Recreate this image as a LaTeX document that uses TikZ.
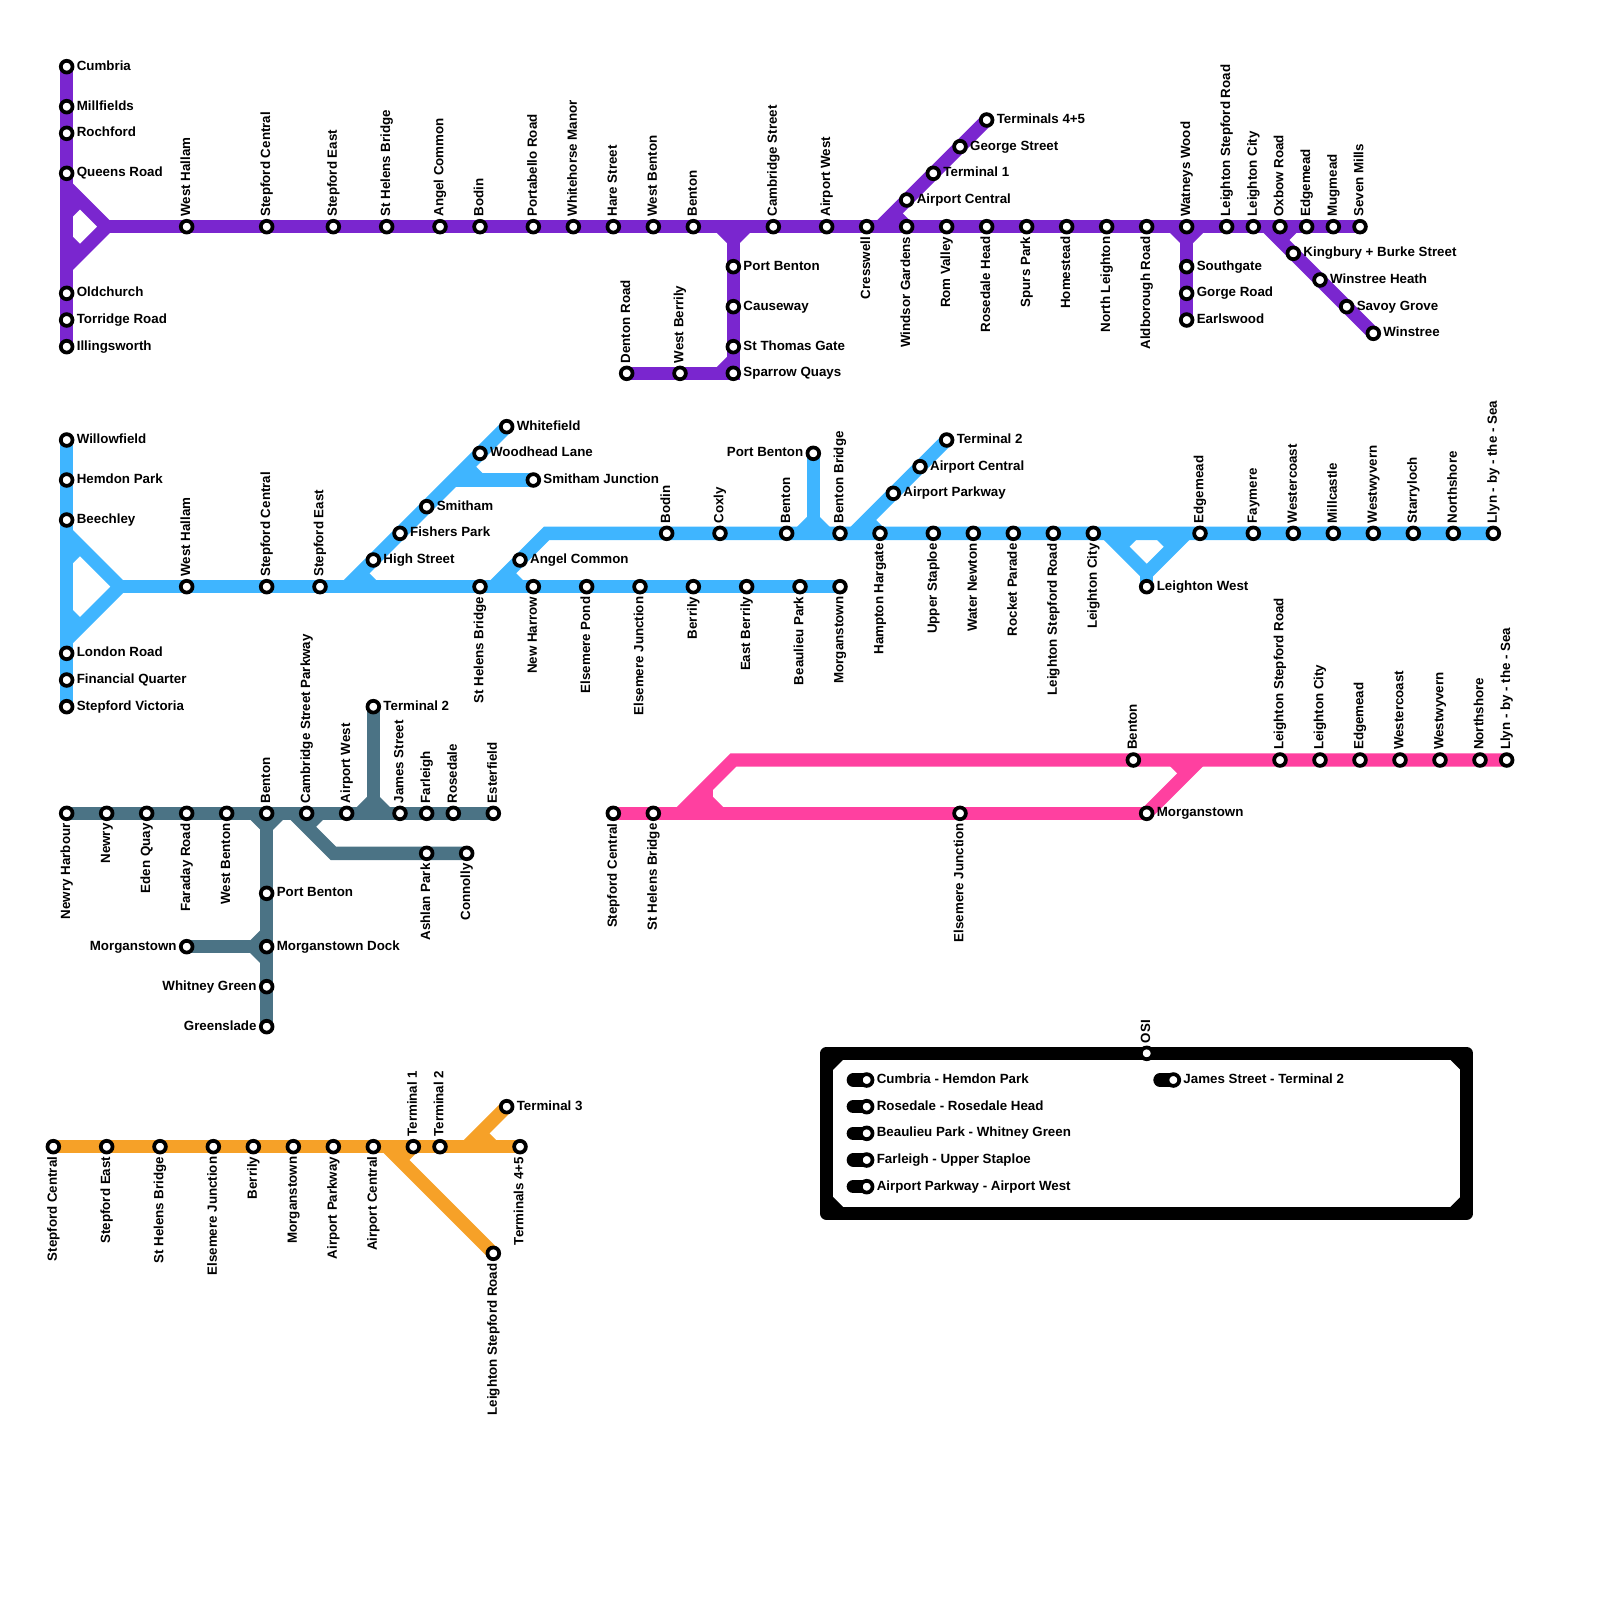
\documentclass[tikz,border=0pt]{standalone}
\usepackage{fontspec}
\setmainfont{Liberation Sans}
\usetikzlibrary{positioning}
\usetikzlibrary{backgrounds}
\definecolor{purpleline}{HTML}{7A26CF}
\definecolor{blueline}{HTML}{3FB5FF}
\definecolor{tealline}{HTML}{4B7385}
\definecolor{pinkline}{HTML}{FF40A0}
\definecolor{orangeline}{HTML}{F6A128}
\tikzset{
  stn/.style={circle,draw=black,fill=white,line width=2.8pt,minimum size=8.8pt,inner sep=0pt,outer sep=0pt},
  lbl/.style={font=\bfseries,inner ysep=0pt,inner xsep=3pt,text height=7.5pt,text depth=2.3pt,black},
  lr/.style={label={[lbl,anchor=west]0:#1}},
  ll/.style={label={[lbl,anchor=east]180:#1}},
  lu/.style={label={[lbl,rotate=90,anchor=west]90:#1}},
  ld/.style={label={[lbl,rotate=90,anchor=east]-90:#1}},
  mline/.style={line width=10pt,draw=#1},
}
\begin{document}
\begin{tikzpicture}[x=10pt,y=-10pt,on grid,label distance=0pt]
  \useasboundingbox (0,0) rectangle (120,120);

  \node[stn,lr=Cumbria] (pcumbria) at (5,5) {};
  \node[stn,lr=Millfields] (pmill) [below=30pt of pcumbria] {};
  \node[stn,lr=Rochford] (proch) [below=20pt of pmill] {};
  \node[stn,lr=Queens Road] (pqueens) [below=30pt of proch] {};
  \node[stn,lr=Oldchurch] (pold) [below=90pt of pqueens] {};
  \node[stn,lr=Torridge Road] (ptorr) [below=20pt of pold] {};
  \node[stn,lr=Illingsworth] (pilling) [below=20pt of ptorr] {};
  \node[stn,lu=West Hallam] (phallam) at (14,17) {};
  \node[stn,lu=Stepford Central] (pscentral) [right=60pt of phallam] {};
  \node[stn,lu=Stepford East] (pseast) [right=50pt of pscentral] {};
  \node[stn,lu=St Helens Bridge] (phelens) [right=40pt of pseast] {};
  \node[stn,lu=Angel Common] (pangel) [right=40pt of phelens] {};
  \node[stn,lu=Bodin] (pbodin) [right=30pt of pangel] {};
  \node[stn,lu=Portabello Road] (pporta) [right=40pt of pbodin] {};
  \node[stn,lu=Whitehorse Manor] (pwhite) [right=30pt of pporta] {};
  \node[stn,lu=Hare Street] (phare) [right=30pt of pwhite] {};
  \node[stn,lu=West Benton] (pwbenton) [right=30pt of phare] {};
  \node[stn,lu=Benton] (pbenton) [right=30pt of pwbenton] {};
  \node[stn,lu=Cambridge Street] (pcamb) [right=60pt of pbenton] {};
  \node[stn,lu=Airport West] (pawest) [right=40pt of pcamb] {};
  \node[stn,ld=Cresswell] (pcress) [right=30pt of pawest] {};
  \node[stn,ld=Windsor Gardens] (pwindsor) [right=30pt of pcress] {};
  \node[stn,ld=Rom Valley] (prom) [right=30pt of pwindsor] {};
  \node[stn,ld=Rosedale Head] (prose) [right=30pt of prom] {};
  \node[stn,ld=Spurs Park] (pspurs) [right=30pt of prose] {};
  \node[stn,ld=Homestead] (phome) [right=30pt of pspurs] {};
  \node[stn,ld=North Leighton] (pnorth) [right=30pt of phome] {};
  \node[stn,ld=Aldborough Road] (pald) [right=30pt of pnorth] {};
  \node[stn,lu=Watneys Wood] (pwat) [right=30pt of pald] {};
  \node[stn,lu=Leighton Stepford Road] (plstep) [right=30pt of pwat] {};
  \node[stn,lu=Leighton City] (plcity) [right=20pt of plstep] {};
  \node[stn,lu=Oxbow Road] (poxbow) [right=20pt of plcity] {};
  \node[stn,lu=Edgemead] (pedge) [right=20pt of poxbow] {};
  \node[stn,lu=Mugmead] (pmug) [right=20pt of pedge] {};
  \node[stn,lu=Seven Mills] (pseven) [right=20pt of pmug] {};
  \node[stn,lr=Port Benton] (pport) at (55,20) {};
  \node[stn,lr=Causeway] (pcause) [below=30pt of pport] {};
  \node[stn,lr=St Thomas Gate] (pthomas) [below=30pt of pcause] {};
  \node[stn,lr=Sparrow Quays] (psparrow) [below=20pt of pthomas] {};
  \node[stn,lu=West Berrily] (pberrily) [left=40pt of psparrow] {};
  \node[stn,lu=Denton Road] (pdenton) [left=40pt of pberrily] {};
  \node[stn,lr=Airport Central] (pacentral) [above=20pt of pwindsor] {};
  \node[stn,lr=Terminal 1] (pterm1) [above right=20pt and 20pt of pacentral] {};
  \node[stn,lr=George Street] (pgeorge) [above right=20pt and 20pt of pterm1] {};
  \node[stn,lr=Terminals 4+5] (pterm45) [above right=20pt and 20pt of pgeorge] {};
  \node[stn,lr=Southgate] (psouth) [below=30pt of pwat] {};
  \node[stn,lr=Gorge Road] (pgorge) [below=20pt of psouth] {};
  \node[stn,lr=Earlswood] (pearls) [below=20pt of pgorge] {};
  \node[stn,lr=Kingbury + Burke Street] (pking) at (97,19) {};
  \node[stn,lr=Winstree Heath] (pheath) [below right=20pt and 20pt of pking] {};
  \node[stn,lr=Savoy Grove] (psavoy) [below right=20pt and 20pt of pheath] {};
  \node[stn,lr=Winstree] (pwinstree) [below right=20pt and 20pt of psavoy] {};

  \node[stn,lr=Willowfield] (bwillow) at (5,33) {};
  \node[stn,lr=Hemdon Park] (bhemdon) [below=30pt of bwillow] {};
  \node[stn,lr=Beechley] (bbeech) [below=30pt of bhemdon] {};
  \node[stn,lr=London Road] (blondon) [below=100pt of bbeech] {};
  \node[stn,lr=Financial Quarter] (bfin) [below=20pt of blondon] {};
  \node[stn,lr=Stepford Victoria] (bvict) [below=20pt of bfin] {};
  \node[stn,lu=West Hallam] (bhallam) at (14,44) {};
  \node[stn,lu=Stepford Central] (bscentral) [right=60pt of bhallam] {};
  \node[stn,lu=Stepford East] (bseast) [right=40pt of bscentral] {};
  \node[stn,ld=St Helens Bridge] (bhelens) at (36,44) {};
  \node[stn,ld=New Harrow] (bharrow) [right=40pt of bhelens] {};
  \node[stn,ld=Elsemere Pond] (bpond) [right=40pt of bharrow] {};
  \node[stn,ld=Elsemere Junction] (bjunc) [right=40pt of bpond] {};
  \node[stn,ld=Berrily] (bberrily) [right=40pt of bjunc] {};
  \node[stn,ld=East Berrily] (beast) [right=40pt of bberrily] {};
  \node[stn,ld=Beaulieu Park] (bbeau) [right=40pt of beast] {};
  \node[stn,ld=Morganstown] (bmorgan) [right=30pt of bbeau] {};
  \node[stn,lr=High Street] (bhigh) at (28,42) {};
  \node[stn,lr=Fishers Park] (bfish) [above right=20pt and 20pt of bhigh] {};
  \node[stn,lr=Smitham] (bsmith) [above right=20pt and 20pt of bfish] {};
  \node[stn,lr=Woodhead Lane] (bwood) [above right=40pt and 40pt of bsmith] {};
  \node[stn,lr=Whitefield] (bwhite) [above right=20pt and 20pt of bwood] {};
  \node[stn,lr=Smitham Junction] (bsjunc) at (40,36) {};
  \node[stn,lr=Angel Common] (bangel) at (39,42) {};
  \node[stn,lu=Bodin] (bbodin) at (50,40) {};
  \node[stn,lu=Coxly] (bcoxly) [right=40pt of bbodin] {};
  \node[stn,lu=Benton] (bbenton) [right=50pt of bcoxly] {};
  \node[stn,lu=Benton Bridge] (bbridge) [right=40pt of bbenton] {};
  \node[stn,ld=Hampton Hargate] (bhampton) [right=30pt of bbridge] {};
  \node[stn,ld=Upper Staploe] (bupper) [right=40pt of bhampton] {};
  \node[stn,ld=Water Newton] (bwater) [right=30pt of bupper] {};
  \node[stn,ld=Rocket Parade] (brocket) [right=30pt of bwater] {};
  \node[stn,ld=Leighton Stepford Road] (blstep) [right=30pt of brocket] {};
  \node[stn,ld=Leighton City] (blcity) [right=30pt of blstep] {};
  \node[stn,lu=Edgemead] (bedge) [right=80pt of blcity] {};
  \node[stn,lu=Faymere] (bfay) [right=40pt of bedge] {};
  \node[stn,lu=Westercoast] (bwestc) [right=30pt of bfay] {};
  \node[stn,lu=Millcastle] (bmill) [right=30pt of bwestc] {};
  \node[stn,lu=Westwyvern] (bwestw) [right=30pt of bmill] {};
  \node[stn,lu=Starryloch] (bstarry) [right=30pt of bwestw] {};
  \node[stn,lu=Northshore] (bnorth) [right=30pt of bstarry] {};
  \node[stn,lu=Llyn - by - the - Sea] (bllyn) [right=30pt of bnorth] {};
  \node[stn,ll=Port Benton] (bport) at (61,34) {};
  \node[stn,lr=Airport Parkway] (bapark) at (67,37) {};
  \node[stn,lr=Airport Central] (bacentral) [above right=20pt and 20pt of bapark] {};
  \node[stn,lr=Terminal 2] (bterm2) [above right=20pt and 20pt of bacentral] {};
  \node[stn,lr=Leighton West] (blwest) at (86,44) {};

  \node[stn,ld=Newry Harbour] (tharbour) at (5,61) {};
  \node[stn,ld=Newry] (tnewry) [right=30pt of tharbour] {};
  \node[stn,ld=Eden Quay] (teden) [right=30pt of tnewry] {};
  \node[stn,ld=Faraday Road] (tfaraday) [right=30pt of teden] {};
  \node[stn,ld=West Benton] (twbenton) [right=30pt of tfaraday] {};
  \node[stn,lu=Benton] (tbenton) [right=30pt of twbenton] {};
  \node[stn,lu=Cambridge Street Parkway] (tcamb) [right=30pt of tbenton] {};
  \node[stn,lu=Airport West] (tawest) [right=30pt of tcamb] {};
  \node[stn,lu=James Street] (tjames) [right=40pt of tawest] {};
  \node[stn,lu=Farleigh] (tfarleigh) [right=20pt of tjames] {};
  \node[stn,lu=Rosedale] (trose) [right=20pt of tfarleigh] {};
  \node[stn,lu=Esterfield] (tester) [right=30pt of trose] {};
  \node[stn,lr=Terminal 2] (tterm2) at (28,53) {};
  \node[stn,ld=Ashlan Park] (tashlan) at (32,64) {};
  \node[stn,ld=Connolly] (tconn) [right=30pt of tashlan] {};
  \node[stn,lr=Port Benton] (tport) at (20,67) {};
  \node[stn,lr=Morganstown Dock] (tdock) [below=40pt of tport] {};
  \node[stn,ll=Whitney Green] (twhitney) [below=30pt of tdock] {};
  \node[stn,ll=Greenslade] (tgreen) [below=30pt of twhitney] {};
  \node[stn,ll=Morganstown] (tmorgan) [left=60pt of tdock] {};

  \node[stn,ld=Stepford Central] (mscentral) at (46,61) {};
  \node[stn,ld=St Helens Bridge] (mhelens) [right=30pt of mscentral] {};
  \node[stn,ld=Elsemere Junction] (mjunc) [right=230pt of mhelens] {};
  \node[stn,lr=Morganstown] (mmorgan) [right=140pt of mjunc] {};
  \node[stn,lu=Benton] (mbenton) at (85,57) {};
  \node[stn,lu=Leighton Stepford Road] (mlstep) [right=110pt of mbenton] {};
  \node[stn,lu=Leighton City] (mlcity) [right=30pt of mlstep] {};
  \node[stn,lu=Edgemead] (medge) [right=30pt of mlcity] {};
  \node[stn,lu=Westercoast] (mwestc) [right=30pt of medge] {};
  \node[stn,lu=Westwyvern] (mwestw) [right=30pt of mwestc] {};
  \node[stn,lu=Northshore] (mnorth) [right=30pt of mwestw] {};
  \node[stn,lu=Llyn - by - the - Sea] (mllyn) [right=20pt of mnorth] {};

  \node[stn,ld=Stepford Central] (oscentral) at (4,86) {};
  \node[stn,ld=Stepford East] (oseast) [right=40pt of oscentral] {};
  \node[stn,ld=St Helens Bridge] (ohelens) [right=40pt of oseast] {};
  \node[stn,ld=Elsemere Junction] (ojunc) [right=40pt of ohelens] {};
  \node[stn,ld=Berrily] (oberrily) [right=30pt of ojunc] {};
  \node[stn,ld=Morganstown] (omorgan) [right=30pt of oberrily] {};
  \node[stn,ld=Airport Parkway] (oapark) [right=30pt of omorgan] {};
  \node[stn,ld=Airport Central] (oacentral) [right=30pt of oapark] {};
  \node[stn,lu=Terminal 1] (oterm1) [right=30pt of oacentral] {};
  \node[stn,lu=Terminal 2] (oterm2) [right=20pt of oterm1] {};
  \node[stn,ld=Terminals 4+5] (oterm45) [right=60pt of oterm2] {};
  \node[stn,lr=Terminal 3] (oterm3) at (38,83) {};
  \node[stn,ld=Leighton Stepford Road] (olstep) at (37,94) {};

  \node[stn,lu=OSI] (kosi) at (86,79) {};
  \node[stn,lr=Cumbria - Hemdon Park] (kone) at (65,81) {};
  \node[stn,lr=Rosedale - Rosedale Head] (ktwo) [below=20pt of kone] {};
  \node[stn,lr=Beaulieu Park - Whitney Green] (kthree) [below=20pt of ktwo] {};
  \node[stn,lr=Farleigh - Upper Staploe] (kfour) [below=20pt of kthree] {};
  \node[stn,lr=Airport Parkway - Airport West] (kfive) [below=20pt of kfour] {};
  \node[stn,lr=James Street - Terminal 2] (ksix) at (88,81) {};

  \coordinate (pa) at (5,14);
  \coordinate (pb) at (8,17);
  \coordinate (pc) at (5,20);
  \coordinate (pd) at (5,16);
  \coordinate (pe) at (6,15);
  \coordinate (pf) at (5,18);
  \coordinate (pg) at (6,19);
  \coordinate (ph) at (54,17);
  \coordinate (pi) at (55,18);
  \coordinate (pj) at (56,17);
  \coordinate (pk) at (54,28);
  \coordinate (pl) at (55,27);
  \coordinate (pm) at (66,17);
  \coordinate (pn) at (67,16);
  \coordinate (po) at (88,17);
  \coordinate (pp) at (89,18);
  \coordinate (pq) at (90,17);
  \coordinate (pr) at (95,17);
  \coordinate (ps) at (97,17);
  \coordinate (pt) at (96,18);

  \coordinate (ba) at (5,40);
  \coordinate (bb) at (9,44);
  \coordinate (bc) at (5,48);
  \coordinate (bd) at (5,42);
  \coordinate (be) at (6,41);
  \coordinate (bf) at (5,46);
  \coordinate (bg) at (6,47);
  \coordinate (bh) at (26,44);
  \coordinate (bi) at (27,43);
  \coordinate (bj) at (28,44);
  \coordinate (bk) at (34,36);
  \coordinate (bl) at (35,35);
  \coordinate (bm) at (36,36);
  \coordinate (bn) at (37,44);
  \coordinate (bo) at (41,40);
  \coordinate (bp) at (38,43);
  \coordinate (bq) at (39,44);
  \coordinate (br) at (60,40);
  \coordinate (bs) at (61,39);
  \coordinate (bt) at (62,40);
  \coordinate (bu) at (64,40);
  \coordinate (bv) at (65,39);
  \coordinate (bw) at (66,40);
  \coordinate (bx) at (83,40);
  \coordinate (by) at (86,43);
  \coordinate (bz) at (89,40);
  \coordinate (baa) at (85,40);
  \coordinate (bab) at (84,41);
  \coordinate (bac) at (87,40);
  \coordinate (bad) at (88,41);

  \coordinate (ta) at (19,61);
  \coordinate (tb) at (20,62);
  \coordinate (tc) at (21,61);
  \coordinate (td) at (22,61);
  \coordinate (te) at (25,64);
  \coordinate (tf) at (24,61);
  \coordinate (tg) at (23,62);
  \coordinate (th) at (27,61);
  \coordinate (ti) at (28,60);
  \coordinate (tj) at (29,61);
  \coordinate (tk) at (19,71);
  \coordinate (tl) at (20,70);
  \coordinate (tm) at (20,72);

  \coordinate (ma) at (51,61);
  \coordinate (mb) at (55,57);
  \coordinate (mc) at (53,59);
  \coordinate (md) at (53,60);
  \coordinate (me) at (54,61);
  \coordinate (mi) at (52,61);
  \coordinate (mf) at (90,57);
  \coordinate (mg) at (88,57);
  \coordinate (mh) at (89,58);

  \coordinate (oa) at (29,86);
  \coordinate (ob) at (31,86);
  \coordinate (oc) at (30,87);
  \coordinate (od) at (35,86);
  \coordinate (oe) at (36,85);
  \coordinate (of) at (37,86);

  \coordinate (ka) at (62,79);
  \coordinate (kb) at (110,79);
  \coordinate (kc) at (110,91);
  \coordinate (kd) at (62,91);
  \coordinate (ke) at (62,80);
  \coordinate (kf) at (63,79);
  \coordinate (kg) at (109,79);
  \coordinate (kh) at (110,80);
  \coordinate (ki) at (110,90);
  \coordinate (kj) at (109,91);
  \coordinate (kk) at (63,91);
  \coordinate (kl) at (62,90);
  \coordinate (kone') at (64,81);
  \coordinate (ktwo') at (64,83);
  \coordinate (kthree') at (64,85);
  \coordinate (kfour') at (64,87);
  \coordinate (kfive') at (64,89);
  \coordinate (ksix') at (87,81);

  \begin{scope}[on background layer]
    \draw[mline=purpleline] (pcumbria.center) -- (pmill.center) -- (proch.center) -- (pqueens.center)
      -- (pold.center) -- (ptorr.center) -- (pilling.center);
    \draw[mline=purpleline] (pa) -- (pb) -- (pc);
    \draw[mline=purpleline] (pd) -- (pe);
    \draw[mline=purpleline] (pf) -- (pg);
    \draw[mline=purpleline] (pb) -- (phallam.center) -- (pscentral.center) -- (pseast.center) -- (phelens.center)
      -- (pangel.center) -- (pbodin.center) -- (pporta.center) -- (pwhite.center) -- (phare.center)
      -- (pwbenton.center) -- (pbenton.center) -- (pcamb.center) -- (pawest.center) -- (pcress.center)
      -- (pwindsor.center) -- (prom.center) -- (prose.center) -- (pspurs.center) -- (phome.center)
      -- (pnorth.center) -- (pald.center) -- (pwat.center) -- (plstep.center) -- (plcity.center)
      -- (poxbow.center) -- (pedge.center) -- (pmug.center) -- (pseven.center);
    \draw[mline=purpleline] (ph) -- (pi) -- (pj);
    \draw[mline=purpleline] (pi) -- (pport.center) -- (pcause.center) -- (pthomas.center) -- (psparrow.center)
      -- (pberrily.center) -- (pdenton.center);
    \draw[mline=purpleline] (pk) -- (pl);
    \draw[mline=purpleline] (pm) -- (pacentral.center) -- (pterm1.center) -- (pgeorge.center) -- (pterm45.center);
    \draw[mline=purpleline] (pn) -- (pwindsor.center);
    \draw[mline=purpleline] (po) -- (pp) -- (pq);
    \draw[mline=purpleline] (pp) -- (psouth.center) -- (pgorge.center) -- (pearls.center);
    \draw[mline=purpleline] (pr) -- (pking.center) -- (pheath.center) -- (psavoy.center) -- (pwinstree.center);
    \draw[mline=purpleline] (ps) -- (pt);

    \draw[mline=blueline] (bwillow.center) -- (bhemdon.center) -- (bbeech.center) -- (blondon.center)
      -- (bfin.center) -- (bvict.center);
    \draw[mline=blueline] (ba) -- (bb) -- (bc);
    \draw[mline=blueline] (bd) -- (be);
    \draw[mline=blueline] (bf) -- (bg);
    \draw[mline=blueline] (bb) -- (bhallam.center) -- (bscentral.center) -- (bseast.center) -- (bhelens.center)
      -- (bharrow.center) -- (bpond.center) -- (bjunc.center) -- (bberrily.center) -- (beast.center)
      -- (bbeau.center) -- (bmorgan.center);
    \draw[mline=blueline] (bh) -- (bhigh.center) -- (bfish.center) -- (bsmith.center) -- (bwood.center) -- (bwhite.center);
    \draw[mline=blueline] (bi) -- (bj);
    \draw[mline=blueline] (bk) -- (bsjunc.center);
    \draw[mline=blueline] (bl) -- (bm);
    \draw[mline=blueline] (bn) -- (bangel.center) -- (bo) -- (bbodin.center) -- (bcoxly.center) -- (bbenton.center)
      -- (bbridge.center) -- (bhampton.center) -- (bupper.center) -- (bwater.center) -- (brocket.center)
      -- (blstep.center) -- (blcity.center) -- (bedge.center) -- (bfay.center) -- (bwestc.center)
      -- (bmill.center) -- (bwestw.center) -- (bstarry.center) -- (bnorth.center) -- (bllyn.center);
    \draw[mline=blueline] (bp) -- (bq);
    \draw[mline=blueline] (br) -- (bs) -- (bt);
    \draw[mline=blueline] (bs) -- (bport.center);
    \draw[mline=blueline] (bu) -- (bapark.center) -- (bacentral.center) -- (bterm2.center);
    \draw[mline=blueline] (bv) -- (bw);
    \draw[mline=blueline] (bx) -- (by) -- (bz);
    \draw[mline=blueline] (by) -- (blwest.center);
    \draw[mline=blueline] (baa) -- (bab);
    \draw[mline=blueline] (bac) -- (bad);

    \draw[mline=tealline] (tharbour.center) -- (tnewry.center) -- (teden.center) -- (tfaraday.center)
      -- (twbenton.center) -- (tbenton.center) -- (tcamb.center) -- (tawest.center) -- (tjames.center)
      -- (tfarleigh.center) -- (trose.center) -- (tester.center);
    \draw[mline=tealline] (ta) -- (tb) -- (tc);
    \draw[mline=tealline] (tb) -- (tport.center) -- (tdock.center) -- (twhitney.center) -- (tgreen.center);
    \draw[mline=tealline] (td) -- (te) -- (tashlan.center) -- (tconn.center);
    \draw[mline=tealline] (tf) -- (tg);
    \draw[mline=tealline] (th) -- (ti) -- (tj);
    \draw[mline=tealline] (ti) -- (tterm2.center);
    \draw[mline=tealline] (tmorgan.center) -- (tk);
    \draw[mline=tealline] (tl) -- (tk) -- (tm);

    \draw[mline=pinkline] (mscentral.center) -- (mhelens.center) -- (mjunc.center) -- (mmorgan.center);
    \draw[mline=pinkline] (ma) -- (mb) -- (mbenton.center) -- (mlstep.center) -- (mlcity.center) -- (medge.center)
      -- (mwestc.center) -- (mwestw.center) -- (mnorth.center) -- (mllyn.center);
    \draw[mline=pinkline] (mc) -- (md);
    \draw[mline=pinkline] (mi) -- (md) -- (me);
    \draw[mline=pinkline] (mmorgan.center) -- (mf);
    \draw[mline=pinkline] (mg) -- (mh);

    \draw[mline=orangeline] (oscentral.center) -- (oseast.center) -- (ohelens.center) -- (ojunc.center)
      -- (oberrily.center) -- (omorgan.center) -- (oapark.center) -- (oacentral.center) -- (oterm1.center)
      -- (oterm2.center) -- (oterm45.center);
    \draw[mline=orangeline] (oa) -- (olstep.center);
    \draw[mline=orangeline] (ob) -- (oc);
    \draw[mline=orangeline] (od) -- (oterm3.center);
    \draw[mline=orangeline] (oe) -- (of);

    \draw[mline=black,line join=round] (ka) -- (kosi.center) -- (kb) -- (kc) -- (kd) -- cycle;
    \draw[mline=black] (ke) -- (kf);
    \draw[mline=black] (kg) -- (kh);
    \draw[mline=black] (ki) -- (kj);
    \draw[mline=black] (kk) -- (kl);
    \draw[mline=black,line cap=round] (kone') -- (kone.center);
    \draw[mline=black,line cap=round] (ktwo') -- (ktwo.center);
    \draw[mline=black,line cap=round] (kthree') -- (kthree.center);
    \draw[mline=black,line cap=round] (kfour') -- (kfour.center);
    \draw[mline=black,line cap=round] (kfive') -- (kfive.center);
    \draw[mline=black,line cap=round] (ksix') -- (ksix.center);
  \end{scope}
\end{tikzpicture}
\end{document}
